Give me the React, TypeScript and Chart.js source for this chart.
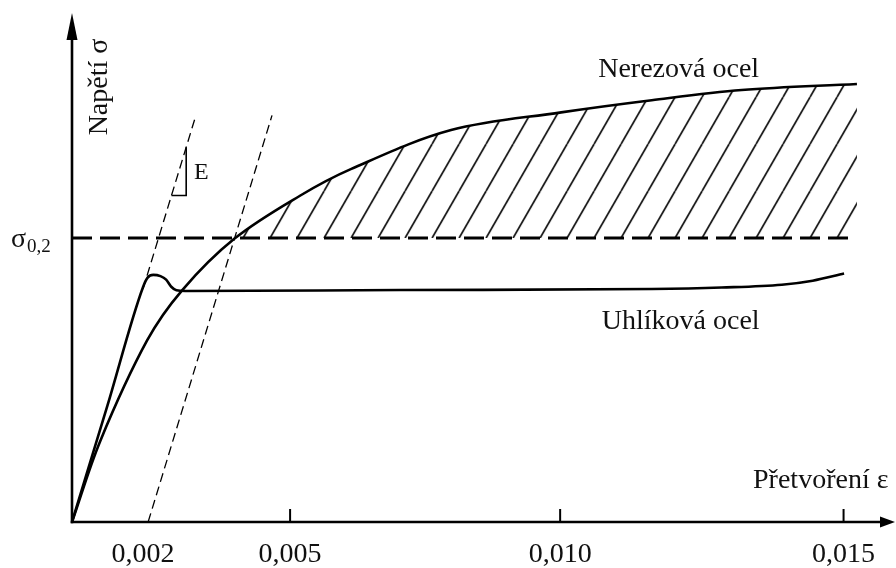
import { useEffect, useRef } from "react";
import { Chart, registerables } from "chart.js";

Chart.register(...registerables);

// Schematic strain axis: where each printed strain value sits, and its text
const strainTickPos = [1.38, 4.24, 9.49, 15];
const strainTickLabels = ["0,002", "0,005", "0,010", "0,015"];
const strainTickMarked = [false, true, true, true];

// Stainless steel: rounded curve without a distinct yield point
const stainlessStrain = [0, 0.55, 1.46, 2.14, 3.16, 4.44, 5.42, 7.37, 9.51, 11.27, 13.02, 15.26];
const stainlessStress = [0, 16, 35.8, 45.7, 55.9, 64.4, 69.6, 77.3, 80.8, 83.2, 85.2, 86.4];

// Carbon steel: linear elastic part, upper yield point, then a plateau
const carbonStrain = [0, 0.69, 1.38, 1.47, 1.58, 1.72, 1.83, 1.93, 2.03, 2.2, 6.39, 11.27, 12.63, 13.8, 14.4, 15.01];
const carbonStress = [0, 23, 46.3, 48.2, 48.75, 48.5, 47.8, 46.4, 45.7, 45.55, 45.75, 45.95, 46.25, 46.8, 47.6, 49.0];

// 0.2 % proof stress level and the extent of its dashed line
const proofStress = 56;
const proofLineEnd = 15.13;

// Elastic modulus line (slope E) and its copy shifted by the 0.002 offset
const elasticSlope = 33.3;
const elasticStart = 1.38;
const elasticTop = 80.2;
const offsetStrain = 1.48;

// Small slope triangle marking E
const triangleStrain = [1.934, 2.22, 2.22];
const triangleStress = [64.4, 64.4, 73.9];

// Hatched area between the stainless curve and the proof stress level
const hatchStart = 3.85;

const FONT = "'Liberation Serif', 'Times New Roman', serif";
const INK = "#111";
const HATCH_W = 27;
const HATCH_H = 47;

const pts = (xs: number[], ys: number[]) => xs.map((x, i) => ({ x, y: ys[i] }));

export default function App() {
  const ref = useRef<HTMLCanvasElement>(null);

  useEffect(() => {
    const canvas = ref.current;
    if (!canvas) return;

    // Diagonal hatch tile
    const tile = document.createElement("canvas");
    tile.width = HATCH_W;
    tile.height = HATCH_H;
    const tctx = tile.getContext("2d")!;
    tctx.strokeStyle = INK;
    tctx.lineWidth = 1.7;
    for (const k of [-1, 0, 1]) {
      tctx.beginPath();
      tctx.moveTo(k * HATCH_W, HATCH_H);
      tctx.lineTo(k * HATCH_W + HATCH_W, 0);
      tctx.stroke();
    }
    const hatch = canvas.getContext("2d")!.createPattern(tile, "repeat")!;

    const decorations = {
      id: "decorations",
      beforeDraw(chart: any) {
        const { x, y } = chart.scales;
        const fx = x.getPixelForValue(hatchStart);
        const fy = y.getPixelForValue(proofStress);
        hatch.setTransform(new DOMMatrix().translate(fx, fy - HATCH_H));
      },
      afterDraw(chart: any) {
        const { ctx, chartArea, scales } = chart;
        const { left, right, top, bottom } = chartArea;
        const { x, y } = scales;
        ctx.save();
        ctx.strokeStyle = "#000";
        ctx.fillStyle = "#000";
        ctx.lineWidth = 2.6;

        // vertical axis with arrow
        ctx.beginPath();
        ctx.moveTo(left, bottom + 1.3);
        ctx.lineTo(left, top + 22);
        ctx.stroke();
        ctx.beginPath();
        ctx.moveTo(left, top - 2);
        ctx.lineTo(left - 5.5, top + 25);
        ctx.lineTo(left + 5.5, top + 25);
        ctx.closePath();
        ctx.fill();

        // horizontal axis with arrow
        ctx.beginPath();
        ctx.moveTo(left - 1.3, bottom);
        ctx.lineTo(right - 12, bottom);
        ctx.stroke();
        ctx.beginPath();
        ctx.moveTo(right, bottom);
        ctx.lineTo(right - 15, bottom - 5.5);
        ctx.lineTo(right - 15, bottom + 5.5);
        ctx.closePath();
        ctx.fill();

        // small inward tick marks
        ctx.lineWidth = 2;
        strainTickPos.forEach((v, i) => {
          if (!strainTickMarked[i]) return;
          const px = x.getPixelForValue(v);
          ctx.beginPath();
          ctx.moveTo(px, bottom);
          ctx.lineTo(px, bottom - 13);
          ctx.stroke();
        });

        ctx.fillStyle = INK;
        ctx.textBaseline = "alphabetic";
        ctx.textAlign = "left";
        ctx.font = `28px ${FONT}`;
        ctx.fillText("Nerezová ocel", x.getPixelForValue(10.23), y.getPixelForValue(87.7));
        ctx.fillText("Uhlíková ocel", x.getPixelForValue(10.3), y.getPixelForValue(38.1));
        ctx.fillText("Přetvoření ε", x.getPixelForValue(13.24), y.getPixelForValue(6.7));

        // proof stress label with subscript
        const py = y.getPixelForValue(proofStress);
        ctx.fillText("σ", 11, py + 8.5);
        const sw = ctx.measureText("σ").width;
        ctx.font = `19px ${FONT}`;
        ctx.fillText("0,2", 11 + sw + 1, py + 14);

        // E marker
        ctx.font = `24px ${FONT}`;
        ctx.fillText("E", x.getPixelForValue(2.37), y.getPixelForValue(67.6));

        // vertical axis title
        ctx.font = `28px ${FONT}`;
        ctx.translate(x.getPixelForValue(0.544), y.getPixelForValue(85.8));
        ctx.rotate(-Math.PI / 2);
        ctx.textAlign = "center";
        ctx.textBaseline = "middle";
        ctx.fillText("Napětí σ", 0, 0);
        ctx.restore();
      },
    };

    const chart = new Chart(canvas, {
      type: "line",
      data: {
        datasets: [
          {
            label: "Nerezová ocel",
            data: pts(stainlessStrain, stainlessStress),
            borderColor: "#000",
            borderWidth: 2.6,
            pointRadius: 0,
            tension: 0.35,
            fill: { target: { value: proofStress }, above: hatch, below: "rgba(0,0,0,0)" },
          },
          {
            label: "Uhlíková ocel",
            data: pts(carbonStrain, carbonStress),
            borderColor: "#000",
            borderWidth: 2.6,
            pointRadius: 0,
            cubicInterpolationMode: "monotone",
            fill: false,
          },
          {
            label: "σ0,2",
            data: [
              { x: 0, y: proofStress },
              { x: proofLineEnd, y: proofStress },
            ],
            borderColor: "#000",
            borderWidth: 3,
            borderDash: [20, 8],
            pointRadius: 0,
            fill: false,
          },
          {
            label: "E",
            data: [
              { x: elasticStart, y: elasticStart * elasticSlope },
              { x: elasticTop / elasticSlope, y: elasticTop },
            ],
            borderColor: "#000",
            borderWidth: 1.3,
            borderDash: [9, 5],
            pointRadius: 0,
            fill: false,
          },
          {
            label: "E offset 0,002",
            data: [
              { x: offsetStrain, y: 0 },
              { x: offsetStrain + elasticTop / elasticSlope, y: elasticTop },
            ],
            borderColor: "#000",
            borderWidth: 1.3,
            borderDash: [9, 5],
            pointRadius: 0,
            fill: false,
          },
          {
            label: "E triangle",
            data: pts(triangleStrain, triangleStress),
            borderColor: "#000",
            borderWidth: 1.6,
            pointRadius: 0,
            fill: false,
          },
        ],
      },
      options: {
        animation: false,
        responsive: false,
        layout: { padding: { left: 72, right: 1, top: 15, bottom: -20 } },
        plugins: {
          legend: { display: false },
          tooltip: { enabled: false },
          filler: { drawTime: "beforeDatasetsDraw" },
        },
        scales: {
          x: {
            type: "linear",
            min: 0,
            max: 16,
            grid: { display: false, drawTicks: false },
            border: { display: false },
            afterBuildTicks: (scale: any) => {
              scale.ticks = strainTickPos.map((v) => ({ value: v }));
            },
            ticks: {
              autoSkip: false,
              maxRotation: 0,
              padding: 19,
              color: INK,
              font: { family: FONT, size: 28, lineHeight: 1 },
              callback: (_v: any, i: number) => strainTickLabels[i],
            },
          },
          y: {
            type: "linear",
            display: false,
            min: 0,
            max: 100,
          },
        },
      },
      plugins: [decorations],
    } as any);

    return () => chart.destroy();
  }, []);

  return (
    <div style={{ position: "absolute", left: 0, top: 0, width: 896, height: 568, background: "#fff" }}>
      <canvas ref={ref} width={896} height={568} style={{ display: "block" }} />
    </div>
  );
}
